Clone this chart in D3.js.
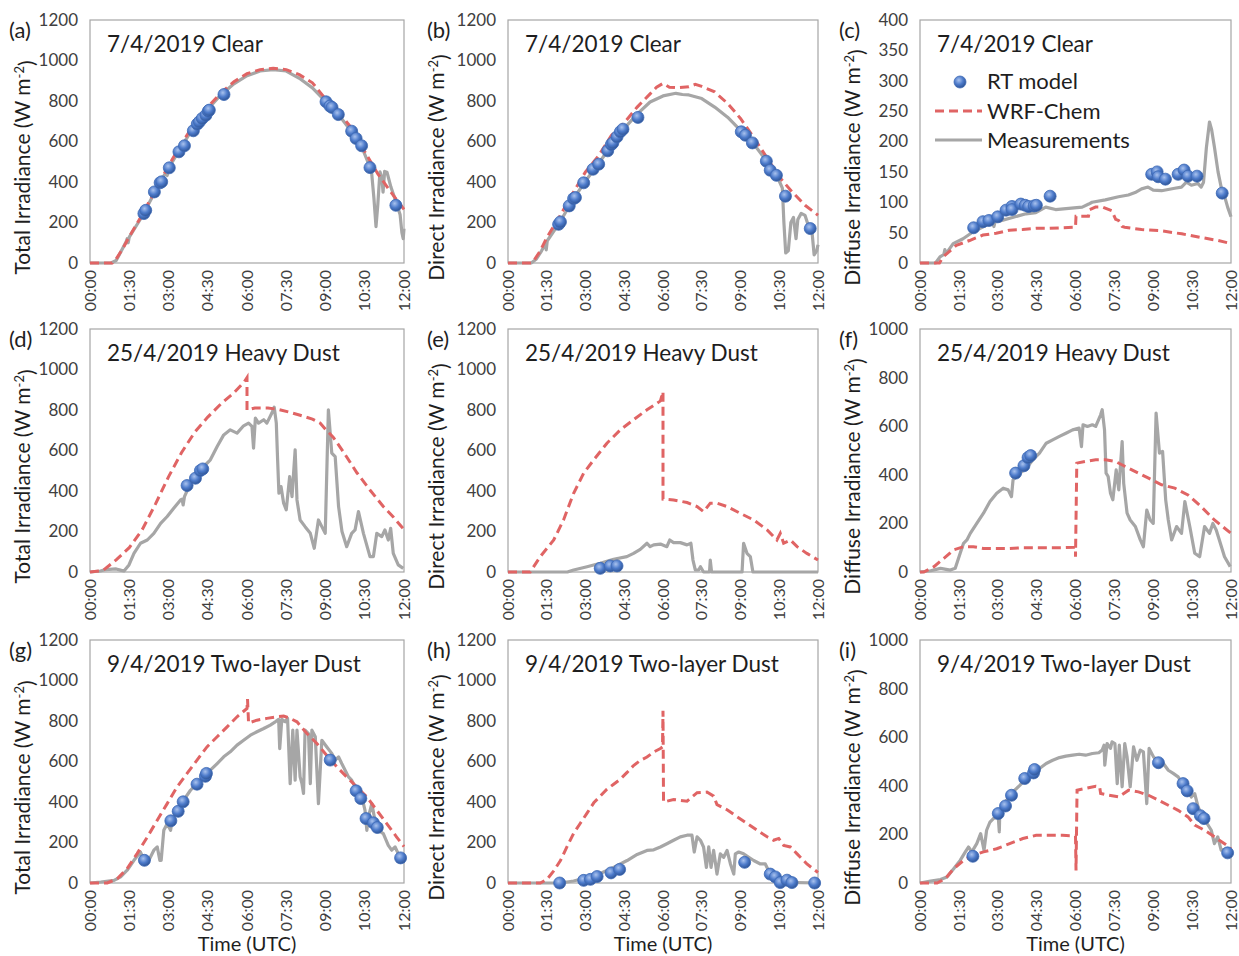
<!DOCTYPE html>
<html>
<head>
<meta charset="utf-8">
<script src="https://cdn.jsdelivr.net/npm/d3@7"></script>
<style>
  body { margin: 0; background: #fff; }
  text { font-family: Lato, "Open Sans", sans-serif; }
</style>
</head>
<body>
<script>
// time axis labels (hours 0-12, UTC)
const timeTicks = ["00:00","01:30","03:00","04:30","06:00","07:30","09:00","10:30","12:00"];
const totalTicks = [0,200,400,600,800,1000,1200];
const clearDiffTicks = [0,50,100,150,200,250,300,350,400];
const dustDiffTicks = [0,200,400,600,800,1000];

const letters = ["(a)","(b)","(c)","(d)","(e)","(f)","(g)","(h)","(i)"];
const dayTitles = ["7/4/2019 Clear","25/4/2019 Heavy Dust","9/4/2019 Two-layer Dust"];
const yTitles = ["Total Irradiance","Direct Irradiance","Diffuse Irradiance"];
const legendNames = ["RT model","WRF-Chem","Measurements"];

// [hour, W m-2]
// (a) clear, total
const clearTotalWrf = [[0,0],[0.85,0],[1,20],[1.25,70],[1.5,130],[1.75,185],[2,240],[2.25,300],[2.5,360],[2.75,420],[3,480],[3.5,590],[4,690],[4.5,770],[5,840],[5.5,895],[6,935],[6.5,955],[7,962],[7.5,955],[8,930],[8.5,890],[9,810],[9.5,745],[10,665],[10.5,550],[11,440],[11.5,350],[12,265]];
const clearTotalMeas = [[0,0],[0.8,0],[1,12],[1.2,60],[1.38,105],[1.42,120],[1.46,100],[1.5,128],[2,232],[2.5,355],[2.9,448],[2.95,432],[3,468],[3.5,575],[4,680],[4.5,760],[5,830],[5.5,885],[6,925],[6.5,948],[7,955],[7.5,948],[8,912],[8.5,865],[9,798],[9.5,732],[10,648],[10.4,568],[10.6,505],[10.75,465],[10.85,320],[10.93,180],[11.0,290],[11.08,450],[11.15,425],[11.2,350],[11.26,452],[11.35,448],[11.5,375],[11.7,300],[11.85,240],[11.92,150],[11.97,120],[12,170]];
const clearTotalRt = [[2.06,244],[2.13,260],[2.46,351],[2.68,396],[2.74,401],[3.03,470],[3.40,549],[3.61,579],[3.95,653],[4.10,686],[4.18,697],[4.29,714],[4.43,730],[4.52,750],[4.56,755],[5.12,832],[9.02,796],[9.17,775],[9.25,768],[9.49,733],[10.0,651],[10.17,615],[10.38,579],[10.70,471],[11.69,285]];

// (b) clear, direct
const clearDirectWrf = [[0,0],[0.9,0],[1,12],[1.25,60],[1.5,125],[2,230],[2.5,343],[3,450],[3.5,528],[4,630],[4.5,692],[5,770],[5.5,835],[5.75,868],[6,887],[6.25,868],[6.5,866],[7,870],[7.25,882],[7.5,872],[8,845],[8.5,788],[9,714],[9.5,623],[10,524],[10.5,425],[11,351],[11.5,285],[12,236]];
const clearDirectMeas = [[0,0],[0.9,0],[1.1,20],[1.3,60],[1.45,95],[1.48,65],[1.52,110],[2,200],[2.5,310],[3,405],[3.5,490],[4,580],[4.5,665],[5,735],[5.5,795],[6,825],[6.5,838],[6.75,832],[7,830],[7.5,812],[8,770],[8.5,720],[9,655],[9.5,590],[10,505],[10.3,440],[10.5,405],[10.62,370],[10.68,200],[10.75,50],[10.85,60],[10.95,200],[11.05,225],[11.15,120],[11.22,215],[11.35,245],[11.5,235],[11.6,195],[11.75,180],[11.85,40],[11.95,60],[12,90]];
const clearDirectRt = [[1.96,191],[2.03,203],[2.37,282],[2.54,318],[2.61,323],[2.93,396],[3.29,463],[3.51,488],[3.86,554],[4.00,585],[4.06,593],[4.22,623],[4.35,648],[4.45,661],[5.03,719],[9.03,648],[9.19,631],[9.46,593],[10.0,503],[10.15,458],[10.39,433],[10.74,330],[11.70,170]];

// (c) clear, diffuse
const clearDiffuseWrf = [[0,0],[0.75,0],[0.89,10],[1.4,29],[1.91,37],[2.43,46],[2.94,49],[3.45,54],[3.96,55],[4.47,57],[4.98,57],[5.49,58],[6.0,59],[6.02,77],[6.5,77],[6.55,88],[6.77,92],[7.05,92],[7.4,86],[7.55,72],[7.66,70],[7.8,60],[7.9,59],[8.55,55],[9.3,53],[10.1,48],[10.85,42],[11.5,37],[12,32]];
const clearDiffuseMeas = [[0,0],[0.6,0],[0.77,10],[0.92,14],[0.96,22],[1.0,15],[1.28,32],[1.66,40],[2.04,51],[2.55,62],[2.8,66],[2.85,60],[2.9,68],[3.06,69],[3.57,75],[4.09,81],[4.47,83],[4.85,92],[5.23,88],[5.74,90],[6.26,92],[6.51,97],[6.64,100],[7.15,104],[7.66,109],[8.04,112],[8.3,116],[8.55,122],[8.8,125],[9.0,120],[9.32,119],[9.83,123],[10.09,125],[10.28,133],[10.47,128],[10.72,131],[10.85,125],[10.94,133],[11.05,190],[11.17,232],[11.25,220],[11.36,191],[11.5,150],[11.62,125],[11.75,110],[11.87,92],[12,76]];
const clearDiffuseRt = [[2.07,58],[2.43,68],[2.66,70],[3.0,76],[3.32,87],[3.55,93],[3.55,88],[3.89,97],[4.06,95],[4.19,93],[4.40,94],[4.49,95],[5.02,110],[8.94,146],[9.15,150],[9.19,142],[9.47,138],[9.96,146],[10.19,153],[10.34,143],[10.69,143],[11.66,115]];

// (d) heavy dust, total
const heavyTotalWrf = [[0,0],[0.5,8],[1,60],[1.5,120],[2,210],[2.5,335],[3,470],[3.5,590],[4,690],[4.5,765],[5,830],[5.5,885],[5.9,940],[6.0,960],[6.0,800],[6.3,810],[6.8,810],[7.2,803],[7.6,790],[8,775],[8.5,755],[8.8,735],[9.0,705],[9.3,665],[9.7,590],[10.2,490],[10.7,405],[11.2,325],[11.6,270],[12,210]];
const heavyTotalMeas = [[0,0],[0.4,5],[0.6,12],[1.0,15],[1.2,8],[1.3,5],[1.49,35],[1.68,92],[1.93,142],[2.19,158],[2.44,191],[2.7,240],[2.95,274],[3.2,315],[3.46,356],[3.52,360],[3.56,331],[3.61,372],[3.84,438],[4.09,488],[4.35,521],[4.6,554],[4.86,620],[5.11,677],[5.36,702],[5.62,686],[5.87,722],[6.06,735],[6.19,719],[6.25,612],[6.32,760],[6.44,735],[6.64,752],[6.76,735],[6.95,785],[7.04,814],[7.12,735],[7.17,554],[7.22,389],[7.3,422],[7.4,340],[7.5,307],[7.63,471],[7.72,372],[7.84,603],[7.91,356],[8.03,257],[8.22,224],[8.42,191],[8.57,117],[8.73,257],[8.86,224],[8.99,191],[9.11,801],[9.24,587],[9.37,570],[9.5,323],[9.63,200],[9.81,125],[10.0,191],[10.13,208],[10.26,298],[10.45,191],[10.7,76],[10.83,76],[10.96,191],[11.15,175],[11.27,208],[11.4,158],[11.49,216],[11.59,92],[11.78,35],[11.97,18]];
const heavyTotalRt = [[3.71,427],[4.03,463],[4.22,501],[4.31,509]];

// (e) heavy dust, direct
const heavyDirectWrf = [[0,0],[0.86,0],[1.25,76],[1.77,158],[2.15,257],[2.54,389],[2.93,488],[3.32,554],[3.83,636],[4.35,702],[4.86,752],[5.38,801],[5.9,845],[6.0,890],[6.0,360],[6.41,356],[6.93,343],[7.32,323],[7.57,298],[7.83,340],[8.09,340],[8.48,323],[8.99,290],[9.51,257],[10.03,208],[10.41,158],[10.54,191],[10.67,142],[10.93,158],[11.19,125],[11.57,92],[12,59]];
const heavyDirectMeas = [[0,0],[2.3,0],[2.54,10],[3.06,26],[3.57,43],[4.09,63],[4.6,76],[4.86,92],[5.12,112],[5.38,142],[5.5,125],[5.64,134],[5.9,138],[6.15,125],[6.26,158],[6.41,145],[6.67,145],[6.93,134],[7.08,142],[7.16,59],[7.25,10],[7.38,10],[7.45,26],[7.57,0],[7.8,0],[7.83,59],[7.88,0],[9.06,0],[9.12,142],[9.25,92],[9.38,76],[9.48,0],[12,0]];
const heavyDirectRt = [[3.57,18],[3.96,30],[4.22,30]];

// (f) heavy dust, diffuse
const heavyDiffuseWrf = [[0,0],[0.15,0],[0.54,22],[0.92,56],[1.3,91],[1.68,104],[2.06,104],[2.45,97],[2.96,97],[3.46,97],[3.97,100],[4.48,100],[4.99,100],[5.5,100],[6.0,102],[6.0,63],[6.05,448],[6.39,455],[6.78,462],[7.16,462],[7.54,455],[7.92,434],[8.31,413],[8.82,386],[9.32,359],[9.83,345],[10.34,317],[10.85,269],[11.36,214],[12,159]];
const heavyDiffuseMeas = [[0,0],[0.41,5],[0.79,15],[1.17,8],[1.36,15],[1.55,77],[1.68,118],[1.81,132],[1.94,159],[2.19,200],[2.45,242],[2.7,290],[2.96,324],[3.21,345],[3.4,338],[3.53,310],[3.59,379],[3.85,407],[4.1,427],[4.36,462],[4.61,489],[4.87,530],[5.12,544],[5.38,558],[5.63,571],[5.89,585],[6.14,592],[6.23,516],[6.29,606],[6.46,599],[6.65,606],[6.78,599],[6.97,647],[7.03,668],[7.12,585],[7.18,407],[7.26,393],[7.35,324],[7.44,297],[7.57,420],[7.67,338],[7.8,537],[7.86,365],[7.99,242],[8.11,214],[8.31,187],[8.5,132],[8.62,104],[8.75,255],[8.88,214],[9.0,200],[9.11,654],[9.24,489],[9.36,496],[9.48,297],[9.58,214],[9.71,132],[9.9,187],[10.09,159],[10.22,290],[10.41,187],[10.6,77],[10.79,63],[10.98,187],[11.17,159],[11.3,200],[11.43,173],[11.55,132],[11.75,63],[11.97,22]];
const heavyDiffuseRt = [[3.69,407],[4.01,437],[4.17,471],[4.27,479]];

// (g) two-layer dust, total
const twoTotalWrf = [[0,0],[0.66,0],[1.04,21],[1.42,71],[1.8,145],[2.19,227],[2.57,310],[2.95,392],[3.33,475],[3.71,541],[4.09,607],[4.47,672],[4.86,722],[5.24,771],[5.62,821],[6.0,862],[6.02,908],[6.06,790],[6.38,804],[6.76,813],[7.14,821],[7.4,824],[7.65,813],[7.91,796],[8.29,738],[8.67,689],[9.05,630],[9.43,574],[9.81,524],[10.19,475],[10.58,425],[10.96,359],[11.34,293],[11.72,227],[12,180]];
const twoTotalMeas = [[0,0],[0.41,5],[0.92,13],[1.17,30],[1.42,63],[1.68,112],[1.93,153],[2.06,112],[2.25,112],[2.44,162],[2.57,178],[2.67,112],[2.72,112],[2.82,260],[2.95,293],[3.08,260],[3.14,310],[3.33,359],[3.58,409],[3.84,458],[4.09,491],[4.35,524],[4.6,557],[4.86,590],[5.11,623],[5.36,648],[5.62,681],[5.87,705],[6.13,730],[6.38,747],[6.64,763],[6.89,780],[7.08,796],[7.21,808],[7.25,664],[7.33,808],[7.46,796],[7.55,813],[7.65,491],[7.75,755],[7.84,508],[7.91,755],[8.03,524],[8.1,491],[8.16,442],[8.22,755],[8.35,738],[8.42,491],[8.48,755],[8.61,722],[8.73,392],[8.86,705],[9.05,672],[9.24,640],[9.37,607],[9.5,623],[9.62,590],[9.75,557],[9.88,524],[10.0,508],[10.13,475],[10.26,442],[10.39,425],[10.51,359],[10.58,260],[10.64,326],[10.77,392],[10.89,310],[11.02,260],[11.21,244],[11.4,186],[11.53,162],[11.66,178],[11.78,145],[11.97,112]];
const twoTotalRt = [[2.08,112],[3.09,307],[3.37,354],[3.56,401],[4.09,488],[4.41,527],[4.45,541],[9.18,607],[10.17,455],[10.35,417],[10.55,318],[10.83,297],[10.98,274],[11.87,124]];

// (h) two-layer dust, direct
const twoDirectWrf = [[0,0],[1.25,0],[1.51,18],[1.77,60],[2.03,111],[2.28,178],[2.54,245],[2.8,295],[3.06,345],[3.32,396],[3.57,429],[3.83,463],[4.09,488],[4.35,513],[4.61,546],[4.86,580],[5.12,605],[5.38,622],[5.64,647],[5.9,664],[5.98,672],[6.0,850],[6.02,400],[6.41,412],[6.93,404],[7.32,446],[7.7,449],[7.96,429],[8.09,387],[8.48,362],[8.86,328],[9.25,295],[9.64,261],[10.03,228],[10.28,211],[10.48,220],[10.67,186],[10.93,178],[11.19,144],[11.57,94],[12,52]];
const twoDirectMeas = [[0,0],[2.03,0],[2.54,10],[3.06,27],[3.57,47],[4.09,77],[4.61,111],[5.0,141],[5.38,161],[5.64,164],[5.9,178],[6.15,194],[6.41,211],[6.67,228],[6.93,236],[7.12,236],[7.21,153],[7.32,228],[7.45,211],[7.57,178],[7.68,77],[7.77,178],[7.86,77],[7.96,161],[8.09,44],[8.22,144],[8.35,127],[8.48,161],[8.61,94],[8.74,44],[8.8,144],[8.93,153],[9.12,144],[9.32,127],[9.51,111],[9.77,94],[9.96,94],[10.09,60],[10.28,27],[10.54,10],[10.8,3],[12,0]];
const twoDirectRt = [[2.0,0],[2.93,13],[3.19,18],[3.45,32],[3.99,50],[4.32,67],[9.16,102],[10.15,44],[10.35,30],[10.54,2],[10.8,14],[10.99,2],[11.87,0]];

// (i) two-layer dust, diffuse
const twoDiffuseWrf = [[0,0],[0.66,0],[0.98,18],[1.3,59],[1.68,93],[2.06,114],[2.45,128],[2.96,141],[3.46,162],[3.97,183],[4.48,196],[4.99,196],[5.5,196],[6.0,194],[6.02,52],[6.06,382],[6.39,389],[6.78,398],[6.93,396],[6.97,368],[7.29,361],[7.67,354],[8.05,382],[8.43,375],[8.82,361],[9.2,341],[9.58,320],[9.96,299],[10.34,272],[10.6,238],[10.98,217],[11.36,190],[11.75,162],[12,141]];
const twoDiffuseMeas = [[0,0],[0.41,8],[0.79,14],[1.04,25],[1.3,59],[1.55,93],[1.75,128],[1.87,148],[2.0,128],[2.19,162],[2.34,203],[2.47,135],[2.57,217],[2.7,251],[2.83,265],[3.02,272],[3.06,210],[3.08,299],[3.34,341],[3.59,375],[3.85,402],[4.1,430],[4.36,451],[4.61,471],[4.87,492],[5.12,505],[5.38,516],[5.63,522],[5.89,526],[6.14,530],[6.39,526],[6.65,533],[6.9,536],[7.03,547],[7.1,567],[7.13,485],[7.22,574],[7.35,554],[7.41,581],[7.52,574],[7.61,409],[7.69,567],[7.8,396],[7.9,574],[7.99,519],[8.11,396],[8.24,560],[8.37,505],[8.5,547],[8.62,540],[8.75,327],[8.84,554],[9.01,519],[9.2,499],[9.39,492],[9.58,464],[9.77,451],[9.96,437],[10.15,402],[10.34,382],[10.47,354],[10.6,368],[10.73,313],[10.85,286],[11.04,251],[11.24,217],[11.36,162],[11.49,190],[11.62,135],[11.81,141],[12,128]];
const twoDiffuseRt = [[2.04,110],[3.02,286],[3.3,317],[3.53,361],[4.04,430],[4.38,453],[4.42,467],[9.2,495],[10.15,409],[10.31,379],[10.54,306],[10.82,277],[10.96,265],[11.87,124]];

const panels = [
  {wrf: clearTotalWrf, meas: clearTotalMeas, rt: clearTotalRt, ticks: totalTicks},
  {wrf: clearDirectWrf, meas: clearDirectMeas, rt: clearDirectRt, ticks: totalTicks},
  {wrf: clearDiffuseWrf, meas: clearDiffuseMeas, rt: clearDiffuseRt, ticks: clearDiffTicks},
  {wrf: heavyTotalWrf, meas: heavyTotalMeas, rt: heavyTotalRt, ticks: totalTicks},
  {wrf: heavyDirectWrf, meas: heavyDirectMeas, rt: heavyDirectRt, ticks: totalTicks},
  {wrf: heavyDiffuseWrf, meas: heavyDiffuseMeas, rt: heavyDiffuseRt, ticks: dustDiffTicks},
  {wrf: twoTotalWrf, meas: twoTotalMeas, rt: twoTotalRt, ticks: totalTicks},
  {wrf: twoDirectWrf, meas: twoDirectMeas, rt: twoDirectRt, ticks: totalTicks},
  {wrf: twoDiffuseWrf, meas: twoDiffuseMeas, rt: twoDiffuseRt, ticks: dustDiffTicks}
];

const red = "#E06464", grey = "#A6A6A6", textCol = "#1e1e1e";
const colLeft = [90, 508, 920], colWidth = [314, 310, 311];
const yTitleOffset = [-60, -64, -60];
const rowTop = [20, 329, 640], plotH = 243;
const hours = timeTicks.map(s => +s.slice(0,2) + (+s.slice(3)) / 60);

const svg = d3.select("body").append("svg")
  .attr("width", 1239)
  .attr("height", 956);

const defs = svg.append("defs");
const grad = defs.append("radialGradient").attr("id", "ball")
  .attr("cx", "40%").attr("cy", "35%").attr("r", "65%");
grad.append("stop").attr("offset", "0%").attr("stop-color", "#A9C2EE");
grad.append("stop").attr("offset", "55%").attr("stop-color", "#4D7BCB");
grad.append("stop").attr("offset", "100%").attr("stop-color", "#2F5597");

panels.forEach((p, i) => {
  const row = Math.floor(i / 3), col = i % 3;
  const w = colWidth[col];
  const g = svg.append("g")
    .attr("transform", `translate(${colLeft[col]},${rowTop[row]})`);

  const x = d3.scaleLinear().domain([0, 12]).range([0, w]);
  const y = d3.scaleLinear().domain([0, d3.max(p.ticks)]).range([plotH, 0]);

  g.append("rect")
    .attr("width", w).attr("height", plotH)
    .attr("fill", "none").attr("stroke", grey).attr("stroke-width", 1.2);

  const yAxis = g.append("g")
    .call(d3.axisLeft(y).tickValues(p.ticks).tickSize(0).tickPadding(12).tickFormat(d3.format("d")));
  yAxis.select(".domain").remove();
  yAxis.selectAll("text").attr("fill", "#404040")
    .style("font-size", "17px").style("font-family", "Lato");

  const xAxis = g.append("g")
    .attr("transform", `translate(0,${plotH})`)
    .call(d3.axisBottom(x).tickValues(hours).tickSize(0).tickFormat((d, k) => timeTicks[k]));
  xAxis.select(".domain").remove();
  xAxis.selectAll("text")
    .attr("transform", "rotate(-90)")
    .attr("x", -7).attr("y", 0).attr("dy", "0.32em")
    .attr("text-anchor", "end")
    .attr("fill", "#404040")
    .style("font-size", "16px").style("font-family", "Lato");

  const line = d3.line().x(d => x(d[0])).y(d => y(d[1]));

  g.append("path").datum(p.meas)
    .attr("d", line).attr("fill", "none")
    .attr("stroke", grey).attr("stroke-width", 3.2).attr("stroke-linejoin", "round");

  g.append("path").datum(p.wrf)
    .attr("d", line).attr("fill", "none")
    .attr("stroke", red).attr("stroke-width", 3)
    .attr("stroke-dasharray", "9,5");

  g.selectAll("circle.rt").data(p.rt).enter()
    .append("circle").attr("class", "rt")
    .attr("cx", d => x(d[0])).attr("cy", d => y(d[1]))
    .attr("r", 6).attr("fill", "url(#ball)")
    .attr("stroke", "#3E69B5").attr("stroke-width", 0.8);

  // panel letter and title
  svg.append("text")
    .attr("x", colLeft[col] - 81).attr("y", rowTop[row] + 18)
    .attr("fill", textCol).style("font-size", "22px")
    .text(letters[i]);

  g.append("text")
    .attr("x", 17).attr("y", 32)
    .attr("fill", textCol).style("font-size", "22.5px")
    .text(dayTitles[row]);

  // y axis title with superscript
  const yt = g.append("text")
    .attr("transform", `translate(${yTitleOffset[col]},${plotH / 2 + 26}) rotate(-90)`)
    .attr("text-anchor", "middle")
    .attr("fill", textCol).style("font-size", "21px");
  yt.append("tspan").text(yTitles[col] + " (W m");
  yt.append("tspan").attr("dy", "-0.45em").style("font-size", "13px").text("-2");
  yt.append("tspan").attr("dy", "0.45em").text(")");

  if (row === 2) {
    g.append("text")
      .attr("x", w / 2).attr("y", plotH + 68)
      .attr("text-anchor", "middle")
      .attr("fill", textCol).style("font-size", "20px")
      .text("Time (UTC)");
  }

  if (i === 2) {
    const lg = g.append("g");
    lg.append("circle").attr("cx", 40).attr("cy", 62).attr("r", 6)
      .attr("fill", "url(#ball)").attr("stroke", "#3E69B5").attr("stroke-width", 0.8);
    lg.append("line").attr("x1", 15).attr("x2", 62).attr("y1", 91).attr("y2", 91)
      .attr("stroke", red).attr("stroke-width", 3).attr("stroke-dasharray", "9,5");
    lg.append("line").attr("x1", 15).attr("x2", 62).attr("y1", 120).attr("y2", 120)
      .attr("stroke", grey).attr("stroke-width", 3.2);
    lg.selectAll("text.lg").data(legendNames).enter()
      .append("text").attr("class", "lg")
      .attr("x", 67).attr("y", (d, k) => 69 + k * 29.5)
      .attr("fill", textCol).style("font-size", "22px")
      .text(d => d);
  }
});
</script>
</body>
</html>
